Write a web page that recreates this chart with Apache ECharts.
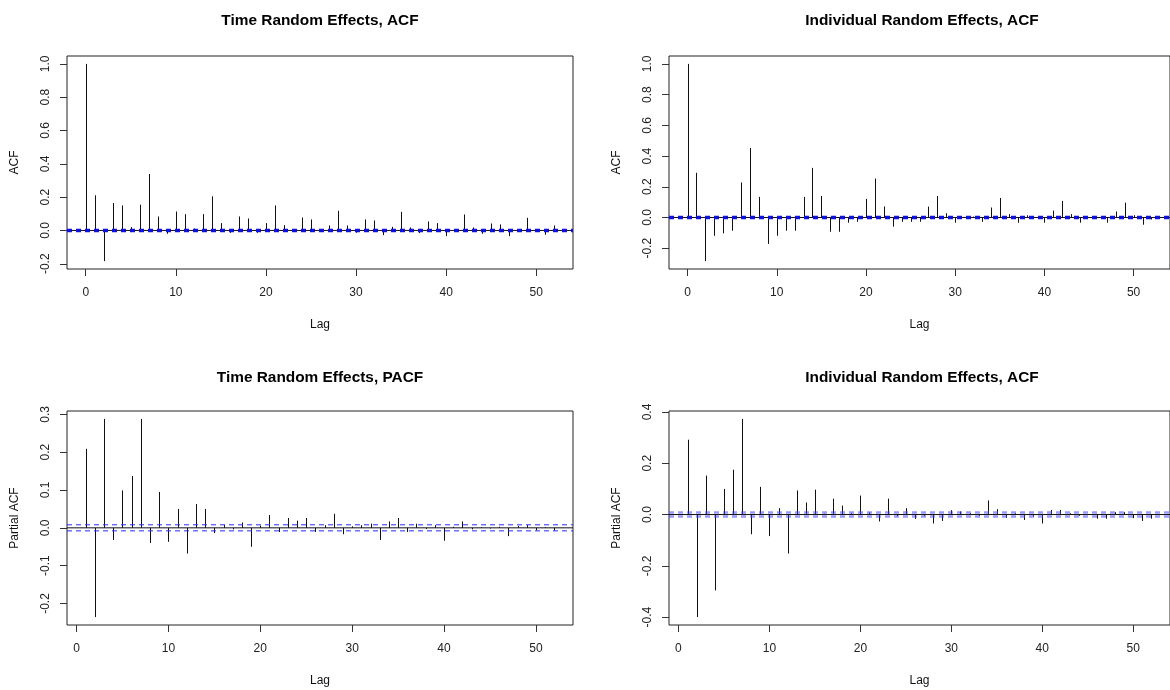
<!DOCTYPE html>
<html>
<head>
<meta charset="utf-8">
<script src="https://cdn.jsdelivr.net/npm/echarts@6/dist/echarts.min.js"></script>
<style>
  html, body { margin: 0; padding: 0; background: #fff; }
  #chart { width: 1170px; height: 690px; }
</style>
</head>
<body>
<div id="chart"></div>
<script>
// Autocorrelation estimates of the time and individual random effects.
const acfLags = Array.from({ length: 53 }, (_, i) => i);        // lags 0..52
const pacfLags = Array.from({ length: 52 }, (_, i) => i + 1);   // lags 1..52

const timeAcf = [
  1.0, 0.211, -0.184, 0.165, 0.15, 0.02, 0.155, 0.339, 0.084, -0.02,
  0.114, 0.098, 0.012, 0.098, 0.205, 0.044, -0.014, 0.084, 0.072, -0.014,
  0.044, 0.15, 0.032, 0.006, 0.078, 0.066, 0.004, 0.03, 0.118, 0.03,
  -0.014, 0.066, 0.06, -0.028, 0.022, 0.112, 0.018, -0.016, 0.054, 0.044,
  -0.034, 0.004, 0.096, 0.018, -0.02, 0.042, 0.036, -0.034, 0.004, 0.076,
  0.004, -0.026, 0.03
];

const indivAcf = [
  1.0, 0.291, -0.284, -0.119, -0.103, -0.086, 0.228, 0.453, 0.134, -0.172,
  -0.119, -0.086, -0.086, 0.134, 0.323, 0.14, -0.093, -0.093, -0.034, -0.028,
  0.121, 0.254, 0.072, -0.059, -0.028, -0.028, -0.028, 0.071, 0.14, 0.028,
  -0.034, 0.004, 0.006, -0.028, 0.065, 0.127, 0.022, -0.034, 0.015, 0.003,
  -0.034, 0.045, 0.108, 0.022, -0.034, 0.003, -0.004, -0.034, 0.039, 0.097,
  0.015, -0.047, -0.013
];

const timePacf = [
  0.209, -0.236, 0.288, -0.032, 0.099, 0.137, 0.288, -0.04, 0.095, -0.037,
  0.05, -0.068, 0.063, 0.05, -0.014, 0.008, -0.004, 0.014, -0.05, 0.006,
  0.034, -0.011, 0.026, 0.019, 0.026, -0.011, 0.007, 0.037, -0.017, 0.004,
  0.007, 0.011, -0.032, 0.017, 0.026, -0.011, 0.011, -0.003, 0.007, -0.034,
  0.003, 0.017, -0.004, 0.002, -0.002, 0.003, -0.022, 0.005, 0.007, -0.007,
  0.002, -0.007
];

const indivPacf = [
  0.292, -0.40, 0.152, -0.296, 0.10, 0.175, 0.373, -0.077, 0.108, -0.084,
  0.025, -0.152, 0.094, 0.047, 0.097, 0.003, 0.062, 0.035, 0.005, 0.074,
  0.008, -0.027, 0.062, -0.006, 0.025, -0.017, -0.005, -0.035, -0.025, 0.017,
  0.012, 0.005, -0.005, 0.055, 0.021, -0.013, 0.005, -0.021, -0.008, -0.035,
  0.018, 0.018, 0.005, -0.005, 0.002, -0.016, -0.016, 0.009, 0.009, -0.014,
  -0.025, -0.016
];

// Confidence bounds drawn as dashed lines
const ciBounds = [0.004, 0.005, 0.008, 0.008];

const xTicks = [0, 10, 20, 30, 40, 50];
const yTicksAcf = [-0.2, 0, 0.2, 0.4, 0.6, 0.8, 1.0];
const yTicksTimePacf = [-0.2, -0.1, 0, 0.1, 0.2, 0.3];
const yTicksIndivPacf = [-0.4, -0.2, 0, 0.2, 0.4];

const titles = [
  'Time Random Effects, ACF',
  'Individual Random Effects, ACF',
  'Time Random Effects, PACF',
  'Individual Random Effects, ACF'
];
const yNames = ['ACF', 'ACF', 'Partial ACF', 'Partial ACF'];

const panels = [
  { lags: acfLags, vals: timeAcf, yTicks: yTicksAcf, ciColor: '#1010e0', ciWidth: 2 },
  { lags: acfLags, vals: indivAcf, yTicks: yTicksAcf, ciColor: '#1010e0', ciWidth: 2 },
  { lags: pacfLags, vals: timePacf, yTicks: yTicksTimePacf, ciColor: '#2a2aff', ciWidth: 1 },
  { lags: pacfLags, vals: indivPacf, yTicks: yTicksIndivPacf, ciColor: 'rgba(70,70,255,0.55)', ciWidth: 2.5 }
];

const boxes = [
  { left: 67, top: 56, width: 506, height: 213 },
  { left: 669, top: 56, width: 506, height: 213 },
  { left: 67, top: 411, width: 506, height: 214 },
  { left: 669, top: 411, width: 506, height: 214 }
];

const FONT = '"Liberation Sans", Arial, sans-serif';

// R-style range: data extent widened by 4% on each side
function extended(lo, hi) {
  const pad = (hi - lo) * 0.04;
  return [lo - pad, hi + pad];
}

const option = {
  animation: false,
  backgroundColor: '#fff',
  title: [],
  grid: [],
  xAxis: [],
  yAxis: [],
  series: []
};

panels.forEach((p, i) => {
  const b = boxes[i];
  const ci = ciBounds[i];
  const [xMin, xMax] = extended(p.lags[0], p.lags[p.lags.length - 1]);
  const [yMin, yMax] = extended(Math.min(...p.vals, -ci), Math.max(...p.vals, ci));

  option.title.push({
    text: titles[i],
    left: b.left + b.width / 2,
    top: i < 2 ? 13 : 370,
    textAlign: 'center',
    padding: 0,
    textStyle: { fontFamily: FONT, fontSize: 15.4, fontWeight: 'bold', color: '#000' }
  });

  option.grid.push({
    left: b.left, top: b.top, width: b.width, height: b.height,
    show: true, borderColor: '#222', borderWidth: 1, backgroundColor: 'transparent',
    containLabel: false
  });

  option.xAxis.push({
    type: 'value', gridIndex: i, min: xMin, max: xMax, position: 'bottom',
    name: 'Lag', nameLocation: 'middle', nameGap: 50,
    nameTextStyle: { fontFamily: FONT, fontSize: 12, color: '#111' },
    axisLine: { show: false, onZero: false },
    splitLine: { show: false },
    axisTick: { show: true, inside: false, length: 7, customValues: xTicks, lineStyle: { color: '#333' } },
    axisLabel: { customValues: xTicks, margin: 18, fontFamily: FONT, fontSize: 12, color: '#222' }
  });

  option.yAxis.push({
    type: 'value', gridIndex: i, min: yMin, max: yMax, position: 'left',
    name: yNames[i], nameLocation: 'middle', nameGap: 46, nameRotate: 90,
    nameTextStyle: { fontFamily: FONT, fontSize: 12, color: '#111' },
    axisLine: { show: false, onZero: false },
    splitLine: { show: false },
    axisTick: { show: true, inside: false, length: 7, customValues: p.yTicks, lineStyle: { color: '#333' } },
    axisLabel: {
      customValues: p.yTicks, rotate: 90, margin: 15,
      fontFamily: FONT, fontSize: 12, color: '#222',
      formatter: v => v.toFixed(1)
    }
  });

  // vertical spikes from zero to each lag's value
  option.series.push({
    type: 'custom',
    xAxisIndex: i, yAxisIndex: i,
    data: p.lags.map((lag, k) => [lag, p.vals[k]]),
    silent: true,
    renderItem: (params, api) => {
      const lag = api.value(0);
      const v = api.value(1);
      const a = api.coord([lag, 0]);
      const c = api.coord([lag, v]);
      const x = Math.round(a[0]) + 0.5;
      return {
        type: 'line',
        shape: { x1: x, y1: a[1], x2: x, y2: c[1] },
        style: { stroke: '#111', lineWidth: 1 }
      };
    }
  });

  // horizontal reference at zero
  option.series.push({
    type: 'line', xAxisIndex: i, yAxisIndex: i, silent: true,
    data: [[xMin, 0], [xMax, 0]], symbol: 'none',
    lineStyle: { color: '#111', width: 1 }
  });

  // upper and lower confidence bounds
  [ci, -ci].forEach(bound => {
    option.series.push({
      type: 'line', xAxisIndex: i, yAxisIndex: i, silent: true,
      data: [[xMin, bound], [xMax, bound]], symbol: 'none',
      lineStyle: { color: p.ciColor, width: p.ciWidth, type: [5, 4] }
    });
  });
});

const chart = echarts.init(document.getElementById('chart'), null, { renderer: 'canvas' });
chart.setOption(option);
</script>
</body>
</html>
